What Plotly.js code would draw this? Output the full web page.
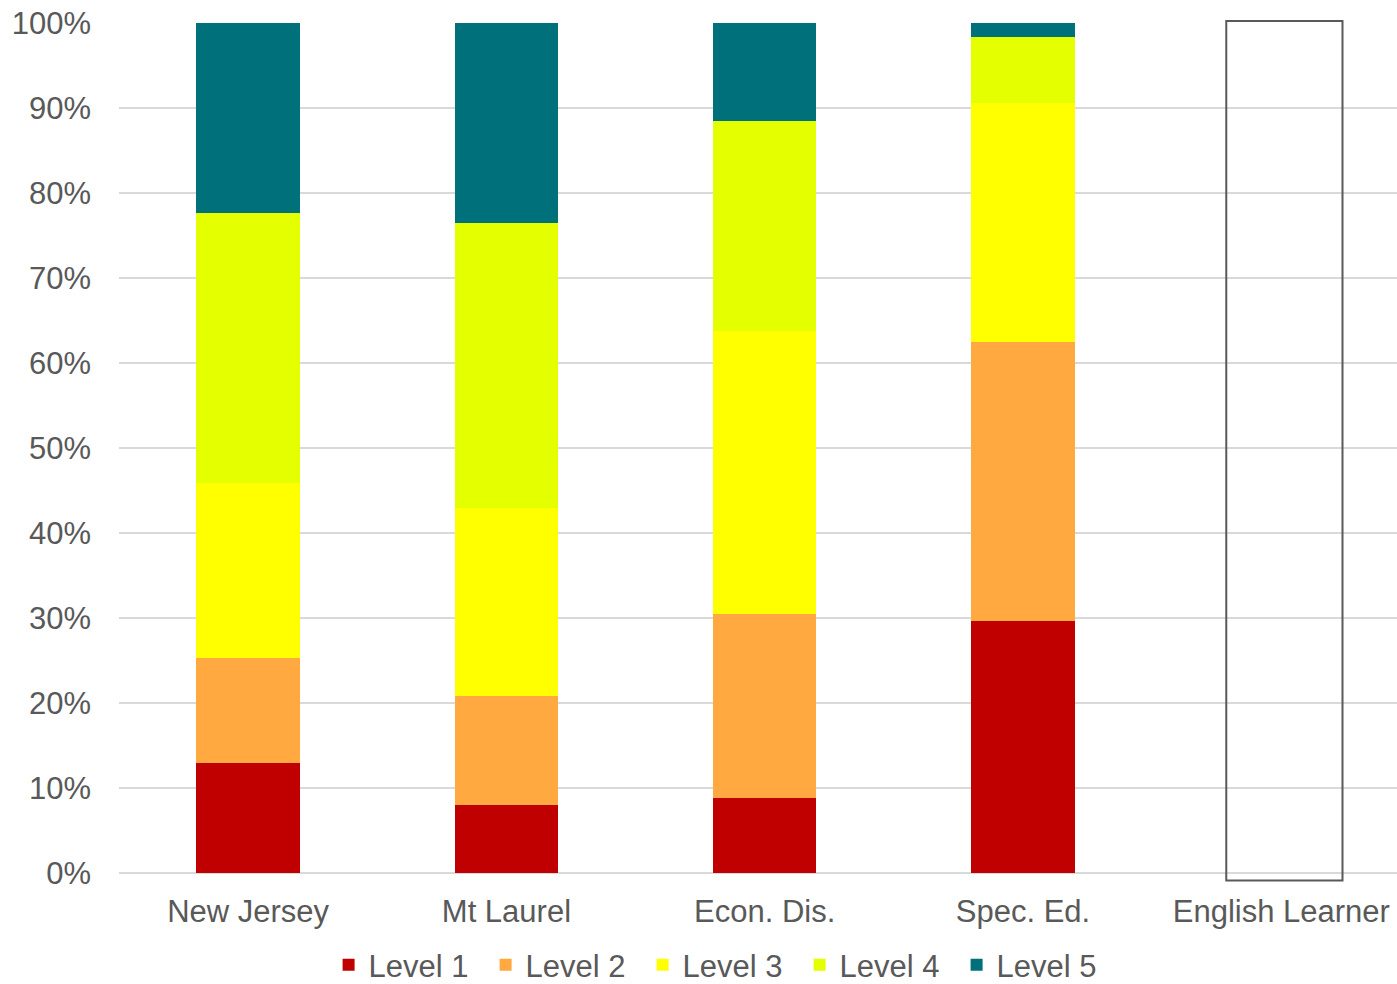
<!DOCTYPE html>
<html>
<head>
<meta charset="utf-8">
<script src="https://cdn.plot.ly/plotly-3.0.1.min.js"></script>
<style>html,body{margin:0;padding:0;background:#fff;}#chart{width:1397px;height:984px;}</style>
</head>
<body>
<div id="chart"></div>
<script>
const categories = ["New Jersey", "Mt Laurel", "Econ. Dis.", "Spec. Ed.", "English Learner"];
const seriesNames = ["Level 1", "Level 2", "Level 3", "Level 4", "Level 5"];
const level1 = [13.0, 8.0, 8.8, 29.7, null];
const level2 = [12.3, 12.8, 21.7, 32.8, null];
const level3 = [20.6, 22.2, 33.3, 28.1, null];
const level4 = [31.7, 33.5, 24.7, 7.8, null];
const level5 = [22.4, 23.5, 11.5, 1.6, null];
const colors = ["#C00000", "#FFA940", "#FFFF00", "#E4FF00", "#00707A"];
const emptyCategory = "English Learner";

const allSeries = [level1, level2, level3, level4, level5];
const traces = allSeries.map((vals, i) => ({
  type: "bar",
  name: seriesNames[i],
  x: categories,
  y: vals,
  marker: {color: colors[i], line: {width: 0}},
  hoverinfo: "x+y+name"
}));

const font = {family: "Liberation Sans, Arial, sans-serif", size: 31, color: "#595959"};
const idx = categories.indexOf(emptyCategory);

const layout = {
  width: 1397, height: 984,
  margin: {l: 119, r: 0, t: 23, b: 110.5, pad: 0, autoexpand: false},
  paper_bgcolor: "#fff", plot_bgcolor: "#fff",
  barmode: "stack",
  bargap: 0.6,
  font: font,
  showlegend: true,
  legend: {
    orientation: "h", x: 0.164, xanchor: "left", y: -0.0765, yanchor: "top",
    traceorder: "normal", font: font, itemwidth: 30,
    entrywidth: 112, entrywidthmode: "pixels", maxheight: 300
  },
  xaxis: {
    type: "category",
    range: [-0.5, 4.448],
    showgrid: false, zeroline: false, showline: false, ticks: "",
    tickfont: font, ticklabelstandoff: 17
  },
  yaxis: {
    range: [0, 100], dtick: 10, ticksuffix: "%",
    showgrid: true, gridcolor: "#D9D9D9", gridwidth: 2,
    zeroline: true, zerolinecolor: "#D9D9D9", zerolinewidth: 2,
    showline: false, ticks: "", tickfont: font, ticklabelstandoff: 27
  },
  shapes: [{
    type: "rect", xref: "x", yref: "paper",
    x0: idx - 0.213, x1: idx + 0.237, y0: -0.0088, y1: 1.0024,
    line: {color: "#595959", width: 2}, fillcolor: "rgba(255,255,255,0)", layer: "above"
  }]
};

Plotly.newPlot("chart", traces, layout, {displayModeBar: false, responsive: false});
</script>
</body>
</html>
